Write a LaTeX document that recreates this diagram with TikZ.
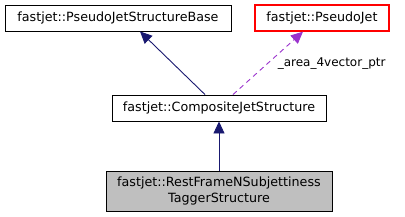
\documentclass[tikz,border=0pt]{standalone}
\usepackage{fontspec}
\setmainfont{DejaVu Sans}
\usepackage{tikz}
\usetikzlibrary{arrows.meta, positioning, calc}
\definecolor{mynavy}{RGB}{25,25,112}
\definecolor{mypurple}{RGB}{154,50,205}
\definecolor{myred}{RGB}{255,0,0}
\definecolor{mygray}{RGB}{191,191,191}
\tikzset{
  classbox/.style={rectangle, draw=black, fill=white, align=center,
    inner sep=0pt, font=\fontsize{12.7}{15.5}\selectfont, line width=0.9pt},
  inherit/.style={-{Triangle[length=12pt, width=11pt]}, color=mynavy, line width=0.9pt},
  usage/.style={-{Triangle[length=12pt, width=11pt]}, color=mypurple, line width=0.9pt,
    dash pattern=on 5pt off 4pt}
}
\begin{document}
\begin{tikzpicture}[x=1pt, y=-1pt]
  \useasboundingbox (0,0) rectangle (405,217);
  % Base classes (top row)
  \node[classbox, minimum width=226pt, minimum height=26pt] (base) at (118, 18) {fastjet::PseudoJetStructureBase};
  \node[classbox, draw=myred, line width=1.3pt, minimum width=134pt, minimum height=26pt] (pj) at (322, 18) {fastjet::PseudoJet};

  % Composite structure (middle)
  \node[classbox, minimum width=214pt, minimum height=26pt] (comp) at (219, 108) {fastjet::CompositeJetStructure};

  % Tagger structure (bottom)
  \node[classbox, fill=mygray, minimum width=226pt, minimum height=40pt] (tagger) at (219, 191) {fastjet::RestFrameNSubjettiness\\TaggerStructure};

  % Connections
  \draw[inherit] (comp.north -| 205,0) -- (base.south -| 140,0);
  \draw[usage] (comp.north -| 233,0) -- node[right=6pt, pos=0.5, text=black, font=\fontsize{12}{14}\selectfont] {\_area\_4vector\_ptr} (pj.south -| 303,0);
  \draw[inherit] (tagger) -- (comp);
\end{tikzpicture}
\end{document}
